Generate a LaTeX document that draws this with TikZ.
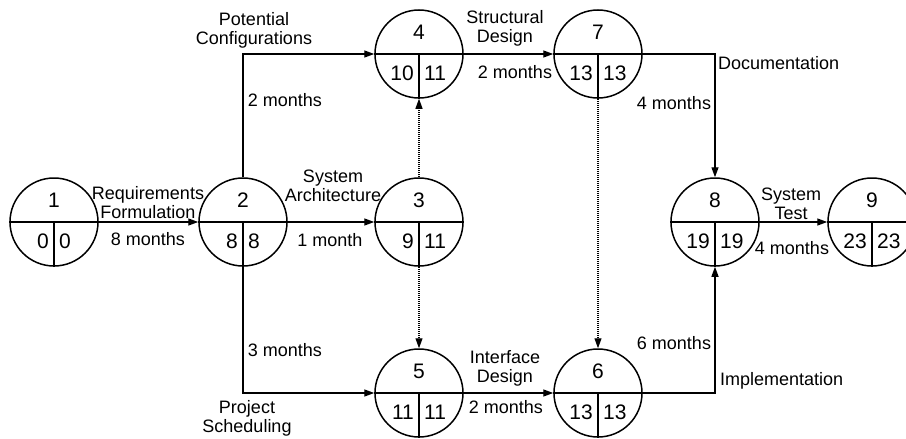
\documentclass[tikz,border=0pt]{standalone}
\usepackage{fontspec}
\setmainfont{Liberation Sans}
\usetikzlibrary{arrows.meta}
\begin{document}
\begin{tikzpicture}[x=1pt,y=-1pt,
  ev/.style={circle,draw,line width=1.5pt,minimum size=88pt,inner sep=0pt},
  divline/.style={line width=1.5pt},
  num/.style={font=\fontsize{21}{22}\selectfont,inner sep=0pt},
  lab/.style={font=\fontsize{18}{19}\selectfont,align=center,inner sep=0pt},
  act/.style={line width=1.3pt,-{Triangle[length=10pt,width=7pt]}},
  dum/.style={line width=1.1pt,dash pattern=on 1pt off 1pt,-{Triangle[length=10pt,width=7pt]}}]
\clip (0,0) rectangle (906,439);
\foreach \n/\x/\y/\ta/\tb/\tc in {1/54/222/1/0/0, 2/243/222/2/8/8, 3/419/222/3/9/11,
  4/419/54/4/10/11, 5/419/393/5/11/11, 6/598/393/6/13/13, 7/598/54/7/13/13,
  8/715/222/8/19/19, 9/872/222/9/23/23} {
  \node[ev] (n\n) at (\x,\y) {};
  \draw[divline] (n\n.west) -- (n\n.east);
  \draw[divline] (n\n.center) -- (n\n.south);
  \node[num] (t\n) at (\x,\y-22) {\ta};
  \node[num,anchor=east] (l\n) at (\x-5,\y+19) {\tb};
  \node[num,anchor=west] (r\n) at (\x+5,\y+19) {\tc};
}
\draw[act] (n1.east) -- (n2.west);
\draw[act] (n2.north) |- (n4.west);
\draw[act] (n2.south) |- (n5.west);
\draw[act] (n2.east) -- (n3.west);
\draw[dum] (n3.north) -- (n4.south);
\draw[dum] (n3.south) -- (n5.north);
\draw[act] (n4.east) -- (n7.west);
\draw[act] (n5.east) -- (n6.west);
\draw[dum] (n7.south) -- (n6.north);
\draw[act] (n7.east) -| (n8.north);
\draw[act] (n6.east) -| (n8.south);
\draw[act] (n8.east) -- (n9.west);
\node[lab] (lreq) at (148,203) {Requirements\\Formulation};
\node[lab] (d12) at (148,239) {8 months};
\node[lab] (lpot) at (254,30) {Potential\\Configurations};
\node[lab] (d24) at (285,100) {2 months};
\node[lab] (lsys) at (333,186) {System\\Architecture};
\node[lab] (d23) at (330,240) {1 month};
\node[lab] (d25) at (285,350) {3 months};
\node[lab] (lproj) at (247,418) {Project\\Scheduling};
\node[lab] (lstr) at (505,28) {Structural\\Design};
\node[lab] (d47) at (515,72) {2 months};
\node[lab] (lint) at (505,368) {Interface\\Design};
\node[lab] (d56) at (506,407) {2 months};
\node[lab,anchor=west] (ldoc) at (718,63) {Documentation};
\node[lab] (d78) at (674,103) {4 months};
\node[lab] (d68) at (674,343) {6 months};
\node[lab,anchor=west] (limp) at (720,381) {Implementation};
\node[lab] (lst) at (791,204) {System\\Test};
\node[lab] (d89) at (792,248) {4 months};
\end{tikzpicture}
\end{document}
